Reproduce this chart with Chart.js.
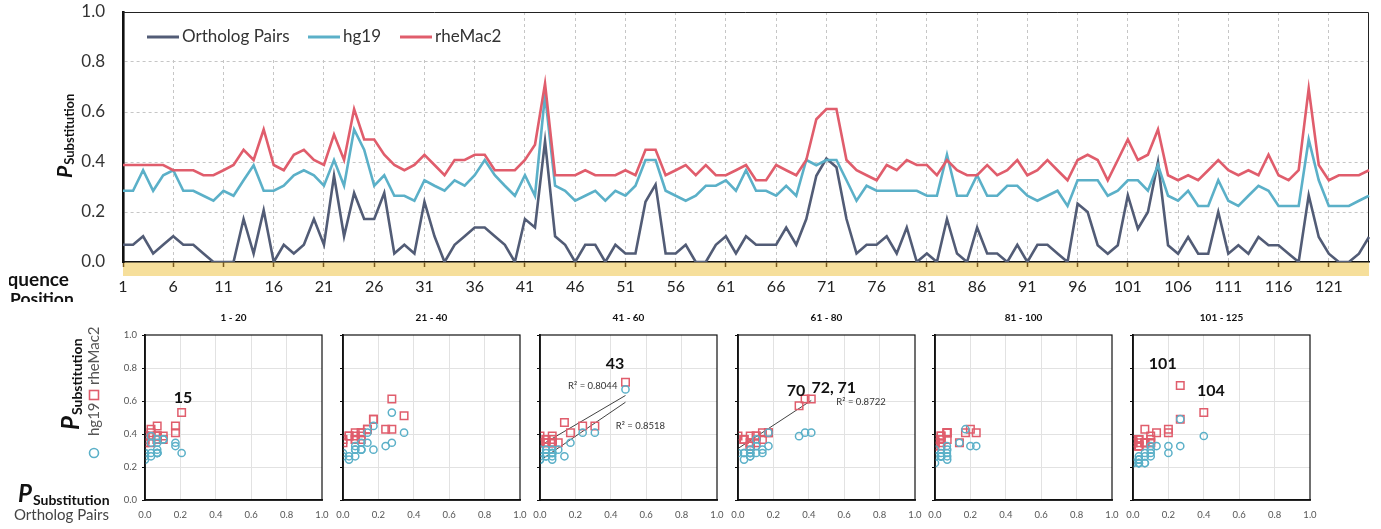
<!DOCTYPE html>
<html>
<head>
<meta charset="utf-8">
<script src="https://cdn.jsdelivr.net/npm/chart.js@4.4.1/dist/chart.umd.min.js"></script>
<style>
  html, body { margin: 0; padding: 0; background: #fff; }
  body { width: 1381px; height: 529px; position: relative; overflow: hidden; }
  canvas { position: absolute; }
</style>
</head>
<body>
<canvas id="main" width="1381" height="302" style="left:0;top:0"></canvas>
<div id="panels"></div>
<script>
// Sequence positions 1..125 (categories)
const positions = Array.from({ length: 125 }, (_, i) => String(i + 1));

// P substitution
const orthologPairs = [
  0.069, 0.069, 0.103, 0.034, 0.069, 0.103, 0.069, 0.069, 0.034, 0,
  0, 0, 0.172, 0.034, 0.207, 0, 0.069, 0.034, 0.069, 0.172,
  0.069, 0.345, 0.103, 0.276, 0.172, 0.172, 0.276, 0.034, 0.069, 0.034,
  0.241, 0.103, 0, 0.069, 0.103, 0.138, 0.138, 0.103, 0.069, 0,
  0.172, 0.138, 0.483, 0.103, 0.069, 0, 0.069, 0.069, 0, 0.069,
  0.034, 0.034, 0.241, 0.31, 0.034, 0.034, 0.069, 0, 0, 0.069,
  0.103, 0.034, 0.103, 0.069, 0.069, 0.069, 0.138, 0.069, 0.172, 0.345,
  0.414, 0.379, 0.172, 0.034, 0.069, 0.069, 0.103, 0.034, 0.138, 0,
  0.034, 0, 0.172, 0.034, 0, 0.138, 0.034, 0.034, 0, 0.069,
  0, 0.069, 0.069, 0.034, 0, 0.233, 0.2, 0.067, 0.033, 0.067,
  0.267, 0.133, 0.2, 0.4, 0.067, 0.033, 0.1, 0.033, 0.033, 0.2,
  0.033, 0.067, 0.033, 0.1, 0.067, 0.067, 0.033, 0, 0.267, 0.1,
  0.033, 0, 0, 0.033, 0.1
];
const hg19 = [
  0.285, 0.285, 0.367, 0.285, 0.347, 0.367, 0.285, 0.285, 0.265, 0.245,
  0.285, 0.265, 0.327, 0.387, 0.285, 0.285, 0.305, 0.347, 0.367, 0.347,
  0.305, 0.408, 0.305, 0.53, 0.449, 0.305, 0.347, 0.265, 0.265, 0.245,
  0.327, 0.305, 0.285, 0.327, 0.305, 0.347, 0.408, 0.347, 0.305, 0.265,
  0.347, 0.265, 0.67, 0.305, 0.285, 0.245, 0.265, 0.285, 0.245, 0.285,
  0.265, 0.305, 0.408, 0.408, 0.285, 0.265, 0.245, 0.265, 0.305, 0.305,
  0.327, 0.285, 0.367, 0.285, 0.285, 0.265, 0.305, 0.265, 0.408, 0.387,
  0.408, 0.408, 0.327, 0.245, 0.305, 0.285, 0.285, 0.285, 0.285, 0.285,
  0.265, 0.265, 0.429, 0.265, 0.265, 0.347, 0.265, 0.265, 0.305, 0.305,
  0.265, 0.245, 0.265, 0.285, 0.224, 0.327, 0.327, 0.327, 0.265, 0.285,
  0.327, 0.327, 0.285, 0.388, 0.265, 0.245, 0.285, 0.224, 0.224, 0.327,
  0.245, 0.224, 0.265, 0.305, 0.285, 0.224, 0.224, 0.224, 0.49, 0.327,
  0.224, 0.224, 0.224, 0.245, 0.265
];
const rheMac2 = [
  0.388, 0.388, 0.388, 0.388, 0.388, 0.367, 0.367, 0.367, 0.347, 0.347,
  0.367, 0.388, 0.449, 0.408, 0.53, 0.388, 0.367, 0.429, 0.449, 0.408,
  0.388, 0.51, 0.408, 0.612, 0.49, 0.49, 0.429, 0.388, 0.367, 0.388,
  0.429, 0.388, 0.347, 0.408, 0.408, 0.429, 0.429, 0.367, 0.367, 0.367,
  0.408, 0.469, 0.714, 0.347, 0.347, 0.347, 0.367, 0.347, 0.347, 0.347,
  0.367, 0.347, 0.449, 0.449, 0.347, 0.367, 0.388, 0.347, 0.388, 0.347,
  0.347, 0.367, 0.388, 0.327, 0.327, 0.388, 0.367, 0.347, 0.408, 0.571,
  0.612, 0.612, 0.408, 0.367, 0.347, 0.327, 0.388, 0.367, 0.408, 0.388,
  0.388, 0.347, 0.408, 0.367, 0.347, 0.347, 0.388, 0.347, 0.367, 0.408,
  0.347, 0.367, 0.408, 0.367, 0.327, 0.408, 0.429, 0.408, 0.327, 0.408,
  0.49, 0.408, 0.429, 0.53, 0.347, 0.327, 0.347, 0.327, 0.367, 0.408,
  0.367, 0.347, 0.367, 0.347, 0.429, 0.347, 0.327, 0.367, 0.694, 0.388,
  0.327, 0.347, 0.347, 0.347, 0.367
];

// scatter panels: position ranges
const ranges = [[1, 20], [21, 40], [41, 60], [61, 80], [81, 100], [101, 125]];
const yTicks = [0, 0.2, 0.4, 0.6, 0.8, 1.0];

const C_ORTH = '#525c76';
const C_HG = '#5bb0c8';
const C_RHE = '#e05d6c';
const FONT = 'Lato, "DejaVu Sans", sans-serif';

// ---------- main line chart ----------
const mainDeco = {
  id: 'mainDeco',
  beforeDraw(chart) {
    const { ctx, chartArea: a } = chart;
    ctx.save();
    ctx.fillStyle = '#f6df9b';
    ctx.fillRect(a.left, a.bottom, a.right - a.left, 14);
    ctx.restore();
  },
  beforeDatasetsDraw(chart) {
    const { ctx, chartArea: a } = chart;
    ctx.save();
    // legend box over the grid
    ctx.fillStyle = '#fff';
    ctx.fillRect(a.left + 2, a.top + 1, 395, 46);
    const items = [
      { label: 'Ortholog Pairs', color: C_ORTH, x: 147 },
      { label: 'hg19', color: C_HG, x: 308 },
      { label: 'rheMac2', color: C_RHE, x: 400 }
    ];
    ctx.font = '17px ' + FONT;
    ctx.textBaseline = 'middle';
    ctx.fillStyle = '#333';
    items.forEach(it => {
      ctx.strokeStyle = it.color;
      ctx.lineWidth = 3;
      ctx.beginPath();
      ctx.moveTo(it.x, 37);
      ctx.lineTo(it.x + 32, 37);
      ctx.stroke();
      ctx.fillText(it.label, it.x + 35, 37);
    });
    // frame top / right
    ctx.strokeStyle = '#222';
    ctx.lineWidth = 1;
    ctx.beginPath();
    ctx.moveTo(a.left, a.top + 0.5);
    ctx.lineTo(a.right - 0.5, a.top + 0.5);
    ctx.lineTo(a.right - 0.5, a.bottom);
    ctx.stroke();
    // y title
    ctx.fillStyle = '#111';
    ctx.translate(72, 178);
    ctx.rotate(-Math.PI / 2);
    ctx.textBaseline = 'alphabetic';
    ctx.font = 'italic bold 21px ' + FONT;
    ctx.fillText('P', 0, 0);
    const pw = ctx.measureText('P').width;
    ctx.font = 'bold 13px ' + FONT;
    ctx.fillText('Substitution', pw + 1, 2);
    ctx.restore();
    // axis caption, cut off on the left and bottom as in the original
    ctx.save();
    ctx.beginPath();
    ctx.rect(9, 260, 120, 42);
    ctx.clip();
    ctx.fillStyle = '#111';
    ctx.textBaseline = 'middle';
    ctx.font = 'bold 19px ' + FONT;
    ctx.textAlign = 'right';
    ctx.fillText('Sequence', 69, 280);
    ctx.font = 'bold 17.5px ' + FONT;
    ctx.textAlign = 'left';
    ctx.fillText('Position', 10, 299);
    ctx.restore();
  }
};

new Chart(document.getElementById('main'), {
  type: 'line',
  data: {
    labels: positions,
    datasets: [
      { label: 'Ortholog Pairs', data: orthologPairs, borderColor: C_ORTH, order: 3 },
      { label: 'hg19', data: hg19, borderColor: C_HG, order: 2 },
      { label: 'rheMac2', data: rheMac2, borderColor: C_RHE, order: 1 }
    ]
  },
  options: {
    responsive: false,
    animation: false,
    devicePixelRatio: 1,
    layout: { padding: { left: 0, right: 12, top: 12, bottom: 0 } },
    elements: {
      line: { borderWidth: 2.6, tension: 0, fill: false },
      point: { radius: 0 }
    },
    plugins: { legend: { display: false }, tooltip: { enabled: false } },
    scales: {
      x: {
        type: 'category',
        offset: false,
        afterFit: s => { s.height = 40; s.paddingLeft = 0; s.paddingRight = 0; },
        grid: {
          color: c => (c.index % 5 === 0 && c.index > 0) ? '#c6c6c6' : 'transparent',
          tickColor: c => (c.index % 5 === 0) ? '#7a5a1c' : 'transparent',
          tickLength: 5,
          tickWidth: 1.5,
          lineWidth: 1
        },
        border: { color: '#111', width: 1.6, dash: [3, 3] },
        ticks: {
          autoSkip: false,
          maxRotation: 0,
          minRotation: 0,
          padding: 10,
          color: '#222',
          font: { family: FONT, size: 16 },
          callback: (v, i) => (i % 5 === 0 ? positions[i] : '')
        }
      },
      y: {
        min: 0,
        max: 1,
        afterFit: s => { s.width = 123; s.paddingTop = 0; s.paddingBottom = 0; },
        grid: {
          color: c => (c.tick.value > 0 && c.tick.value < 1) ? '#c6c6c6' : 'transparent',
          drawTicks: false,
          lineWidth: 1
        },
        border: { color: '#111', width: 2.6, dash: [3, 3] },
        ticks: {
          stepSize: 0.2,
          padding: 18,
          color: '#333',
          font: { family: FONT, size: 17 },
          callback: v => v.toFixed(1)
        }
      }
    }
  },
  plugins: [mainDeco]
});

// ---------- scatter panels ----------
const panelNotes = [
  [{ t: '15', x: 0.215, y: 0.618, big: true }],
  [],
  [{ t: '43', x: 0.424, y: 0.824, big: true },
   { t: 'R\u00B2 = 0.8044', x: 0.298, y: 0.69 },
   { t: 'R\u00B2 = 0.8518', x: 0.567, y: 0.45 }],
  [{ t: '70', x: 0.328, y: 0.662, big: true },
   { t: '72, 71', x: 0.541, y: 0.679, big: true },
   { t: 'R\u00B2 = 0.8722', x: 0.695, y: 0.596 }],
  [],
  [{ t: '101', x: 0.168, y: 0.824, big: true },
   { t: '104', x: 0.44, y: 0.662, big: true }]
];
const panelTrends = [[], [], ['hg19', 'rheMac2'], ['rheMac2'], [], []];

function linFit(xs, ys) {
  const n = xs.length;
  const mx = xs.reduce((a, b) => a + b, 0) / n;
  const my = ys.reduce((a, b) => a + b, 0) / n;
  let sxy = 0, sxx = 0;
  for (let i = 0; i < n; i++) {
    sxy += (xs[i] - mx) * (ys[i] - my);
    sxx += (xs[i] - mx) ** 2;
  }
  const m = sxy / sxx;
  return { m, b: my - m * mx };
}

const PANEL_TOP = 300;
const PANEL_STEP = 197.6;
const PANEL_W = 177;

// labels left of the first panel (page coords, shifted to the canvas)
function drawLeftLabels(ctx) {
  ctx.save();
  ctx.translate(0, -PANEL_TOP);
  ctx.save();
  ctx.fillStyle = '#111';
  ctx.translate(79, 430);
  ctx.rotate(-Math.PI / 2);
  ctx.font = 'italic bold 24px ' + FONT;
  ctx.fillText('P', 0, 0);
  let w = ctx.measureText('P').width;
  ctx.font = 'bold 14px ' + FONT;
  ctx.fillText('Substitution', w + 1, 3);
  ctx.restore();

  // series key, rotated
  ctx.save();
  ctx.translate(99, 460);
  ctx.rotate(-Math.PI / 2);
  ctx.lineWidth = 1.6;
  ctx.strokeStyle = C_HG;
  ctx.beginPath();
  ctx.arc(7, -5, 4.5, 0, Math.PI * 2);
  ctx.stroke();
  ctx.fillStyle = '#555';
  ctx.font = '15px ' + FONT;
  ctx.fillText('hg19', 24, 0);
  ctx.strokeStyle = C_RHE;
  ctx.strokeRect(60.5, -9.5, 9, 9);
  ctx.fillText('rheMac2', 75, 0);
  ctx.restore();

  // x title
  ctx.fillStyle = '#111';
  ctx.font = 'italic bold 24px ' + FONT;
  ctx.fillText('P', 18, 502);
  w = ctx.measureText('P').width;
  ctx.font = 'bold 14px ' + FONT;
  ctx.fillText('Substitution', 18 + w + 1, 505);
  ctx.fillStyle = '#444';
  ctx.font = '15px ' + FONT;
  ctx.fillText('Ortholog Pairs', 14, 520);
  ctx.restore();
}

ranges.forEach((r, p) => {
  const axisLeft = 145 + PANEL_STEP * p;
  const yW = p === 0 ? 145 : 45;
  const cv = document.createElement('canvas');
  cv.width = yW + PANEL_W + 18;
  cv.height = 229;
  cv.style.left = (axisLeft - yW) + 'px';
  cv.style.top = PANEL_TOP + 'px';
  document.getElementById('panels').appendChild(cv);

  const xs = orthologPairs.slice(r[0] - 1, r[1]);
  const hs = hg19.slice(r[0] - 1, r[1]);
  const rs = rheMac2.slice(r[0] - 1, r[1]);

  const datasets = [
    { type: 'scatter', label: 'hg19', data: xs.map((x, i) => ({ x, y: hs[i] })),
      pointStyle: 'circle', pointRadius: 3.6, borderColor: C_HG, backgroundColor: 'transparent',
      pointBorderWidth: 1.5 },
    { type: 'scatter', label: 'rheMac2', data: xs.map((x, i) => ({ x, y: rs[i] })),
      pointStyle: 'rect', pointRadius: 5.3, borderColor: C_RHE, backgroundColor: 'transparent',
      pointBorderWidth: 1.5 }
  ];
  panelTrends[p].forEach(name => {
    const ys = name === 'hg19' ? hs : rs;
    const f = linFit(xs, ys);
    const x0 = Math.min(...xs), x1 = Math.max(...xs);
    datasets.push({
      type: 'line', label: name + ' trend',
      data: [{ x: x0, y: f.m * x0 + f.b }, { x: x1, y: f.m * x1 + f.b }],
      borderColor: '#111', borderWidth: 0.8, pointRadius: 0, fill: false
    });
  });

  const deco = {
    id: 'panelDeco' + p,
    afterDraw(chart) {
      const { ctx, chartArea: a, scales } = chart;
      ctx.save();
      ctx.strokeStyle = '#111';
      ctx.lineWidth = 1.2;
      ctx.strokeRect(a.left, a.top, a.right - a.left, a.bottom - a.top);
      ctx.fillStyle = '#111';
      ctx.textAlign = 'center';
      ctx.textBaseline = 'middle';
      ctx.font = 'bold 10px ' + FONT;
      ctx.fillText(r[0] + ' - ' + r[1], (a.left + a.right) / 2, 18);
      panelNotes[p].forEach(n => {
        ctx.font = n.big ? 'bold 16px ' + FONT : '9.5px ' + FONT;
        ctx.fillStyle = n.big ? '#111' : '#333';
        ctx.fillText(n.t, scales.x.getPixelForValue(n.x), scales.y.getPixelForValue(n.y));
      });
      ctx.restore();
    }
  };

  new Chart(cv, {
    type: 'scatter',
    data: { datasets },
    options: {
      responsive: false,
      animation: false,
      devicePixelRatio: 1,
      layout: { padding: { left: 0, right: 18, top: 35, bottom: 0 } },
      plugins: { legend: { display: false }, tooltip: { enabled: false } },
      scales: {
        x: {
          type: 'linear', min: 0, max: 1,
          afterFit: s => { s.height = 29; s.paddingLeft = 0; s.paddingRight = 0; },
          grid: { color: c => (c.tick.value > 0 && c.tick.value < 1) ? '#e2e2e2' : 'transparent', drawTicks: false },
          border: { color: '#111', width: 1.8 },
          ticks: { stepSize: 0.2, padding: 9, color: '#555', font: { family: FONT, size: 9.5 },
                   callback: v => v.toFixed(1) }
        },
        y: {
          type: 'linear', min: 0, max: 1,
          afterFit: s => { s.width = yW; s.paddingTop = 0; s.paddingBottom = 0; },
          afterBuildTicks: s => { s.ticks = yTicks.map(v => ({ value: v })); },
          grid: { color: c => (c.tick.value > 0 && c.tick.value < 1) ? '#e2e2e2' : 'transparent',
                  tickColor: '#111', tickLength: 3 },
          border: { color: '#111', width: 1.8 },
          ticks: { display: p === 0, padding: 5, color: '#555', font: { family: FONT, size: 9.5 },
                   callback: v => v.toFixed(1) }
        }
      }
    },
    plugins: [deco, p === 0 ? { id: 'leftLabels', afterDraw: c => drawLeftLabels(c.ctx) } : { id: 'none' }]
  });
});
</script>
</body>
</html>
